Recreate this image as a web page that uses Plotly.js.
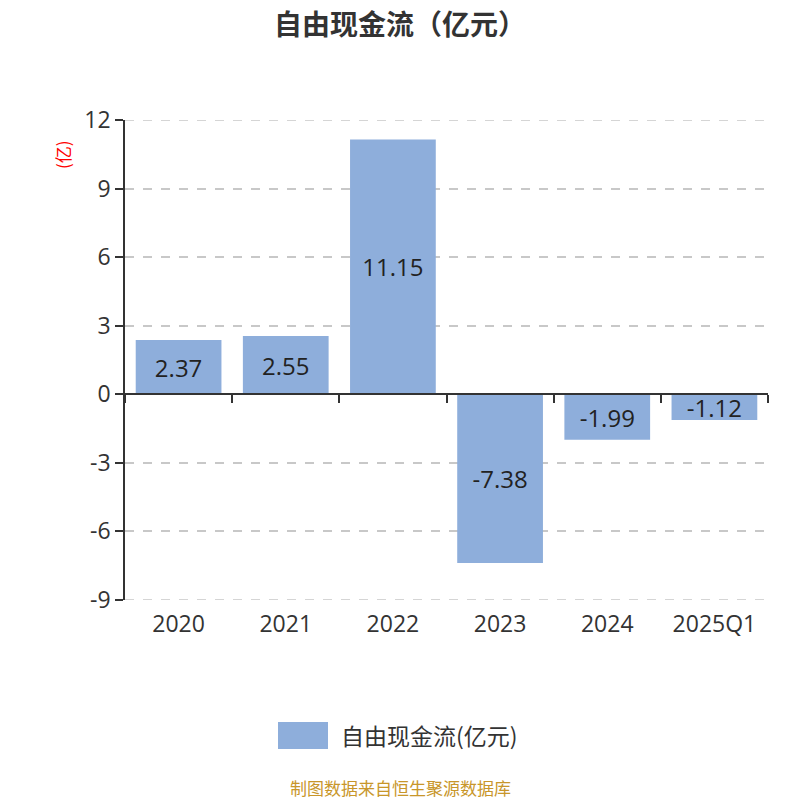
<!DOCTYPE html>
<html>
<head>
<meta charset="utf-8">
<script src="https://cdn.plot.ly/plotly-3.0.1.min.js"></script>
<style>html,body{margin:0;padding:0;background:#fff}</style>
</head>
<body>
<div id="chart" style="width:800px;height:800px"></div>
<script>
const years = ['2020', '2021', '2022', '2023', '2024', '2025Q1']
const cashFlow = [2.37, 2.55, 11.15, -7.38, -1.99, -1.12]
const seriesName = '自由现金流(亿元)'
const yTicks = [-9, -6, -3, 0, 3, 6, 9, 12]

const font = '"Open Sans", "Noto Sans CJK SC", sans-serif'
const cjk = '"Noto Sans CJK SC", sans-serif'
const barColor = '#8eaedb'
const gridColor = '#c8c8c8'

// plot area in pixels: x 125..768, y 120..600
const px = x => (x - 125) / 643
const py = y => (600 - y) / 480

const data = [{
    x: years,
    y: cashFlow,
    type: 'bar',
    name: seriesName,
    marker: {color: barColor},
    text: cashFlow.map(v => v.toFixed(2)),
    textposition: 'inside',
    insidetextanchor: 'middle',
    constraintext: 'none',
    textfont: {size: 24, color: '#222', family: font},
    hoverinfo: 'x+y',
    showlegend: false
}, {
    // carries the axis line drawn at zero
    x: years,
    y: cashFlow.map(() => null),
    xaxis: 'x2',
    type: 'bar',
    showlegend: false,
    hoverinfo: 'skip'
}]

// dashed lines on the top and bottom ticks, which plotly leaves out
const edgeLines = [yTicks[0], yTicks[yTicks.length - 1]].map(v => ({
    type: 'line',
    xref: 'paper', yref: 'y',
    x0: 0, x1: 1, y0: v, y1: v,
    line: {color: gridColor, width: 1.5, dash: 'dash'},
    layer: 'below'
}))

const layout = {
    width: 800,
    height: 800,
    margin: {l: 125, r: 32, t: 120, b: 200},
    paper_bgcolor: '#fff',
    plot_bgcolor: '#fff',
    font: {family: font, color: '#333'},
    bargap: 0.2,
    title: {
        text: '<b>自由现金流（亿元）</b>',
        font: {size: 28, color: '#333', family: cjk},
        x: 0.5,
        xanchor: 'center',
        y: 1 - 25 / 800,
        yanchor: 'middle'
    },
    xaxis: {
        type: 'category',
        showline: false,
        showgrid: false,
        zeroline: false,
        ticks: '',
        tickfont: {size: 23, color: '#333'},
        ticklabelstandoff: 8
    },
    xaxis2: {
        type: 'category',
        overlaying: 'x',
        anchor: 'free',
        position: 9 / 21,
        matches: 'x',
        showline: true,
        linecolor: '#333',
        linewidth: 1.5,
        ticks: 'outside',
        tickson: 'boundaries',
        ticklen: 8,
        tickwidth: 1.5,
        tickcolor: '#333',
        showticklabels: false,
        showgrid: false,
        zeroline: false
    },
    yaxis: {
        range: [-9, 12],
        tickvals: yTicks,
        ticktext: yTicks.map(String),
        showline: true,
        linecolor: '#333',
        linewidth: 1.5,
        ticks: 'outside',
        ticklen: 8,
        tickwidth: 1.5,
        tickcolor: '#333',
        tickfont: {size: 23, color: '#333'},
        showgrid: true,
        gridcolor: gridColor,
        griddash: 'dash',
        gridwidth: 1.5,
        zeroline: false
    },
    shapes: [...edgeLines, {
        type: 'rect',
        xref: 'paper', yref: 'paper',
        x0: px(278), x1: px(328), y0: py(749), y1: py(722),
        fillcolor: barColor,
        line: {width: 0}
    }],
    annotations: [{
        text: '(亿)',
        xref: 'paper', yref: 'paper',
        x: px(62), y: py(155),
        xanchor: 'center', yanchor: 'middle',
        textangle: -90,
        showarrow: false,
        font: {size: 17, color: '#ff0000', family: cjk}
    }, {
        text: seriesName,
        xref: 'paper', yref: 'paper',
        x: px(339), y: py(735),
        xanchor: 'left', yanchor: 'middle',
        showarrow: false,
        font: {size: 23, color: '#333', family: cjk}
    }, {
        text: '制图数据来自恒生聚源数据库',
        xref: 'paper', yref: 'paper',
        x: px(400), y: py(787),
        xanchor: 'center', yanchor: 'middle',
        showarrow: false,
        font: {size: 17, color: '#c8962a', family: cjk}
    }]
}

Plotly.newPlot('chart', data, layout, {displayModeBar: false});
</script>
</body>
</html>
